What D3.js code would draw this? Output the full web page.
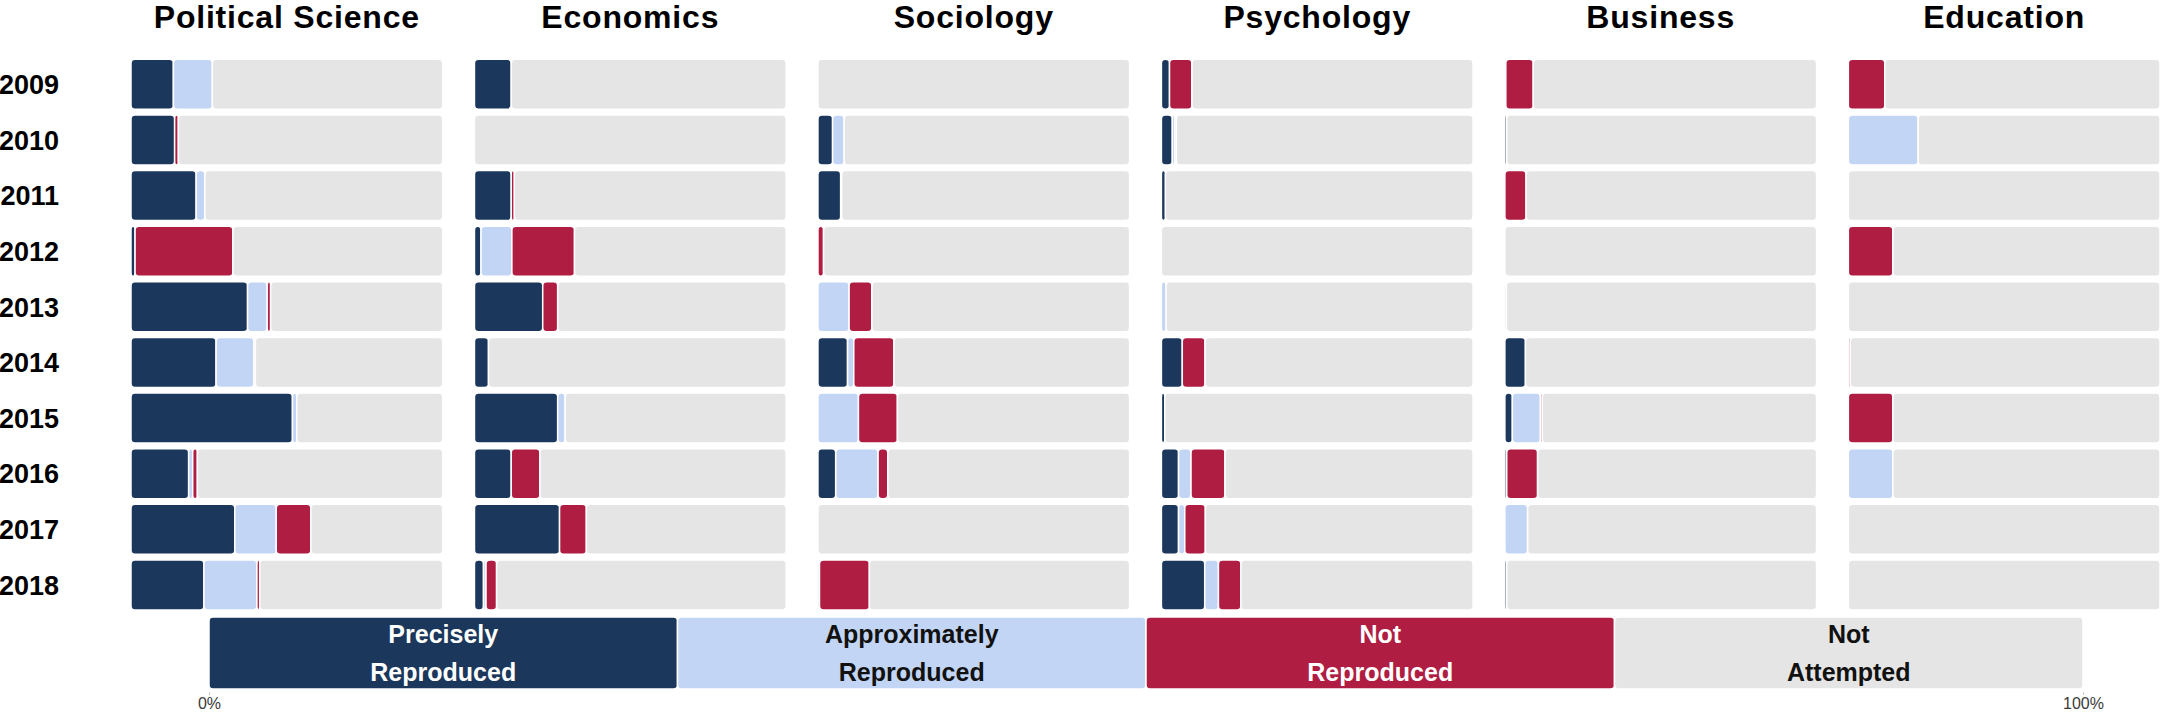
<!DOCTYPE html>
<html>
<head>
<meta charset="utf-8">
<script src="https://cdn.jsdelivr.net/npm/d3@7"></script>
<style>
  body { margin: 0; background: #fff; }
  text { font-family: "Liberation Sans", Arial, sans-serif; }
</style>
</head>
<body>
<svg class="chart"></svg>
<script>
// Chart data: share of articles (%) by discipline and year
var disciplines = ["Political Science", "Economics", "Sociology", "Psychology", "Business", "Education"];
var years = [2009, 2010, 2011, 2012, 2013, 2014, 2015, 2016, 2017, 2018];
var categories = ["Precisely Reproduced", "Approximately Reproduced", "Not Reproduced", "Not Attempted"];

// one row per discipline, one value per year
var precisely = [
  [13.6, 14.0, 20.9, 1.3, 37.4, 27.3, 51.8, 18.5, 33.3, 23.4],
  [11.8, 0, 11.8, 2.1, 21.9, 4.5, 26.7, 11.8, 27.3, 2.9],
  [0, 4.7, 7.3, 0, 0, 9.5, 0, 5.7, 0, 0.5],
  [2.6, 3.5, 1.3, 0, 0, 6.7, 1.1, 5.5, 5.5, 13.9],
  [0.3, 0.6, 0, 0, 0.5, 6.6, 2.4, 0.6, 0, 0.6],
  [0, 0, 0, 0, 0, 0, 0, 0, 0, 0]
];
var approximately = [
  [12.5, 0, 2.8, 0, 6.3, 12.1, 1.4, 1.3, 13.3, 17.0],
  [0, 0, 0, 9.9, 0, 0, 2.4, 0, 0, 0.8],
  [0, 3.7, 0.3, 0, 10.0, 2.0, 13.0, 13.6, 0, 0],
  [0, 0.8, 0, 0, 1.5, 0, 0, 4.0, 2.0, 4.4],
  [0, 0, 0, 0, 0, 0, 9.0, 0, 7.3, 0],
  [0, 22.4, 0, 0, 0, 0, 0, 14.3, 0, 0]
];
var notReproduced = [
  [0, 1.2, 0, 31.4, 1.1, 0.5, 0, 1.5, 11.1, 0.9],
  [0, 0, 1.0, 20.1, 4.8, 0, 0, 9.2, 8.6, 3.4],
  [0, 0, 0, 1.8, 7.3, 12.9, 12.5, 3.1, 0, 16.0],
  [7.2, 0.5, 0, 0, 0, 7.3, 0, 10.9, 6.6, 7.2],
  [8.8, 0, 6.8, 0, 0, 0, 0.6, 9.9, 0, 0],
  [11.7, 0, 0, 14.3, 0, 0.6, 14.3, 0, 0, 0]
];
var legendShares = [25, 25, 25, 25];
var legendTicks = [0, 100];

var colors = ["#1b375b", "#c3d5f4", "#b01d42", "#e5e5e5"];
var legendTextColors = ["#fff", "#111", "#fff", "#111"];

var width = 2162, height = 715;
var chart = d3.select(".chart")
  .attr("width", width)
  .attr("height", height);

// panel (discipline) and row (year) scales
var panel = d3.scaleBand()
  .domain(disciplines)
  .range([131, 2160])
  .paddingInner(0.0926);
var row = d3.scaleBand()
  .domain(years)
  .range([59.3, 610])
  .paddingInner(0.1);
var x = d3.scaleLinear()
  .domain([0, 100])
  .range([0, panel.bandwidth()]);

// build stacked rows (the grey part is whatever is left up to 100%)
var rows = [];
disciplines.forEach(function(name, i) {
  years.forEach(function(year, j) {
    var vals = [precisely[i][j], approximately[i][j], notReproduced[i][j]];
    vals.push(100 - d3.sum(vals));
    var start = 0;
    vals.forEach(function(v, k) {
      if (v > 0) rows.push({discipline: name, year: year, cat: k, x0: start, x1: start + v});
      start += v;
    });
  });
});

// titles
chart.append("g").selectAll("text")
  .data(disciplines)
  .enter().append("text")
    .attr("x", function(d) { return panel(d) + panel.bandwidth() / 2; })
    .attr("y", 28)
    .attr("text-anchor", "middle")
    .style("font-size", "32px")
    .style("font-weight", "bold")
    .style("letter-spacing", "0.8px")
    .attr("fill", "#000")
    .text(function(d) { return d; });

// year labels
chart.append("g").selectAll("text")
  .data(years)
  .enter().append("text")
    .attr("x", 59)
    .attr("y", function(d) { return row(d) + row.bandwidth() / 2; })
    .attr("dy", "0.36em")
    .attr("text-anchor", "end")
    .style("font-size", "27px")
    .style("font-weight", "bold")
    .attr("fill", "#000")
    .text(function(d) { return d; });

// bars
chart.append("g").selectAll("rect")
  .data(rows)
  .enter().append("rect")
    .attr("x", function(d) { return panel(d.discipline) + x(d.x0); })
    .attr("y", function(d) { return row(d.year); })
    .attr("width", function(d) { return x(d.x1) - x(d.x0); })
    .attr("height", row.bandwidth())
    .attr("rx", 4)
    .attr("fill", function(d) { return colors[d.cat]; })
    .attr("stroke", "#fff")
    .attr("stroke-width", 1.5);

// legend as a 100% stacked bar with an axis
var lx = d3.scaleLinear().domain([0, 100]).range([209, 2083]);
var legendTop = 617, legendH = 72;
var lstart = 0;
var legendData = legendShares.map(function(v, i) {
  var d = {cat: i, x0: lstart, x1: lstart + v};
  lstart += v;
  return d;
});
var legend = chart.append("g").attr("class", "legend");
legend.selectAll("rect")
  .data(legendData)
  .enter().append("rect")
    .attr("x", function(d) { return lx(d.x0); })
    .attr("y", legendTop)
    .attr("width", function(d) { return lx(d.x1) - lx(d.x0); })
    .attr("height", legendH)
    .attr("rx", 4)
    .attr("fill", function(d) { return colors[d.cat]; })
    .attr("stroke", "#fff")
    .attr("stroke-width", 1.5);

var ltext = legend.selectAll("text")
  .data(legendData)
  .enter().append("text")
    .attr("text-anchor", "middle")
    .style("font-size", "25px")
    .style("font-weight", "bold")
    .attr("fill", function(d) { return legendTextColors[d.cat]; });
ltext.each(function(d) {
  var words = categories[d.cat].split(" ");
  var cx = (lx(d.x0) + lx(d.x1)) / 2;
  var t = d3.select(this);
  t.append("tspan").attr("x", cx).attr("y", 643).text(words[0]);
  t.append("tspan").attr("x", cx).attr("y", 681).text(words.slice(1).join(" "));
});

var axis = chart.append("g")
  .attr("transform", "translate(0," + (legendTop + legendH + 3) + ")")
  .call(d3.axisBottom(lx)
    .tickValues(legendTicks)
    .tickFormat(function(d) { return d + "%"; })
    .tickSize(3)
    .tickPadding(3));
axis.select(".domain").remove();
axis.selectAll(".tick line").attr("stroke", "#c8c8c8");
axis.selectAll(".tick text")
  .attr("fill", "#3a3a3a")
  .style("font-size", "16px")
  .style("font-family", "'Liberation Sans', Arial, sans-serif");
</script>
</body>
</html>
